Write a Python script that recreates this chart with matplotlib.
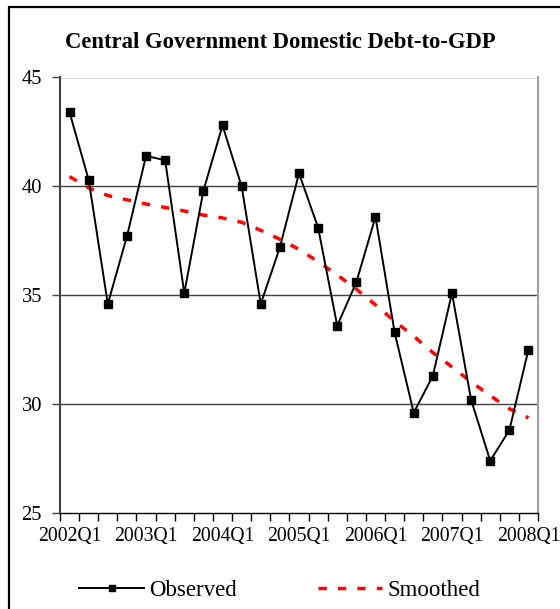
import matplotlib.pyplot as plt
from matplotlib.lines import Line2D
from matplotlib.patches import Rectangle

# --- Dados: dívida doméstica do governo central (% do PIB), trimestral ---
years = [2002, 2003, 2004, 2005, 2006, 2007, 2008]
quarters = [f'{y}Q{q}' for y in years for q in range(1, 5)][:25]

observed = [43.4, 40.3, 34.6, 37.7, 41.4, 41.2, 35.1, 39.8, 42.8, 40.0,
            34.6, 37.2, 40.6, 38.1, 33.6, 35.6, 38.6, 33.3, 29.6, 31.3,
            35.1, 30.2, 27.4, 28.8, 32.5]

smoothed = [40.45, 39.93, 39.58, 39.38, 39.19, 39.03, 38.87, 38.68, 38.55,
            38.35, 37.98, 37.57, 37.11, 36.54, 35.93, 35.28, 34.56, 33.81,
            33.12, 32.37, 31.71, 31.02, 30.39, 29.79, 29.37]

y_ticks = [25, 30, 35, 40, 45]

plt.rcParams['font.family'] = ['Liberation Serif', 'DejaVu Serif']

fig = plt.figure(figsize=(5.6, 6.09), dpi=100)
ax = fig.add_axes([60 / 560, 1 - 513 / 609, 478 / 560, 435.5 / 609])

x = list(range(len(quarters)))
dash = (0, (2.4, 3.2))

# --- Grade horizontal ---
for yv in y_ticks[1:]:
    ax.axhline(yv, color='#404040', linewidth=1.0, zorder=1)

ax.plot(x, smoothed, color='red', linewidth=2.5, linestyle=dash, zorder=2)
ax.plot(x, observed, color='black', linewidth=1.4, marker='s',
        markersize=5.5, zorder=3)

ax.set_xlim(-0.5, len(quarters) - 0.5)
ax.set_ylim(25, 45)
ax.set_yticks(y_ticks)
ax.set_yticklabels([str(v) for v in y_ticks], fontsize=14.8)

# rótulos a cada 4 trimestres, marcas entre categorias
ax.set_xticks(x[::4])
ax.set_xticklabels(quarters[::4], fontsize=14.2)
ax.tick_params(axis='x', which='major', length=0, pad=10)
ax.set_xticks([i - 0.5 for i in range(len(quarters) + 1)], minor=True)
ax.tick_params(axis='x', which='minor', length=6, width=1.0, color='black')
ax.tick_params(axis='y', length=6, width=1.0, color='#404040', pad=7)

ax.spines['top'].set_visible(False)
ax.spines['right'].set_color('#a0a0a0')
ax.spines['right'].set_linewidth(1.5)
ax.spines['left'].set_color('#404040')
ax.spines['left'].set_linewidth(1.5)
ax.spines['bottom'].set_color('black')
ax.spines['bottom'].set_linewidth(1.0)

fig.text(0.5, 1 - 43 / 609, 'Central Government Domestic Debt-to-GDP',
         ha='center', va='center', fontsize=16.3, fontweight='bold')

# --- Legenda ---
handles = [
    Line2D([0, 0.5, 1], [0, 0, 0], color='black', linewidth=1.4, marker='s',
           markersize=4, markevery=[1]),
    Line2D([], [], color='red', linewidth=2.5, linestyle=dash),
]
fig.legend(handles, ['Observed', 'Smoothed'], loc='center',
           bbox_to_anchor=(0.5, 1 - 590 / 609), ncol=2, frameon=False,
           fontsize=16.5, handlelength=2.8, handletextpad=0.26,
           columnspacing=3.5)

# moldura externa do gráfico
fig.patches.append(Rectangle((9 / 560, -0.1), 1.2, 1 - 7 / 609 + 0.1,
                             transform=fig.transFigure, fill=False,
                             edgecolor='black', linewidth=1.6))

fig.savefig('out.png', dpi=100)
